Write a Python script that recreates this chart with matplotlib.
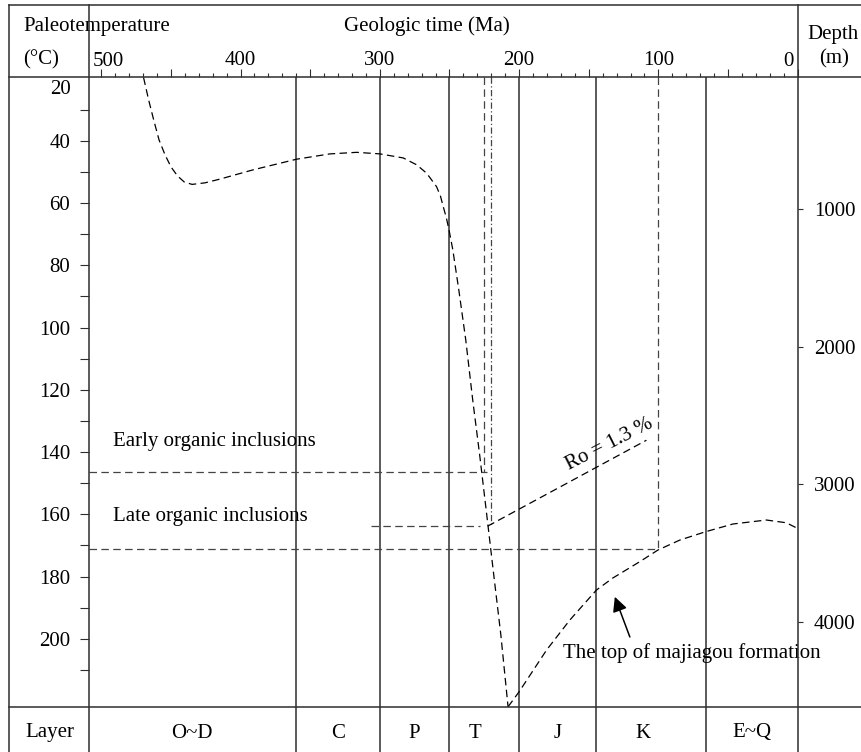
import numpy as np
import matplotlib.pyplot as plt
from matplotlib.lines import Line2D

plt.rcParams['font.family'] = ['Liberation Serif', 'DejaVu Serif']
plt.rcParams['font.size'] = 15

# geologic period boundaries (Ma) and layer labels
geo_bounds = [360, 300, 250, 200, 145, 66]
layer_names = ['O~D', 'C', 'P', 'T', 'J', 'K', 'E~Q']
layer_pos = [435, 330, 275, 232, 172, 111, 33]

# paleotemperature history (Ma, degC)
temp_age = [469.6, 466.0, 462.4, 458.5, 454.2, 449.9, 445.2, 440.5, 434.8, 425.5,
            414.8, 390.8, 359.7, 335.8, 316.6, 299.9, 283.2, 273.6, 266.4, 259.3,
            256.5, 254.5, 252.2, 250.2, 247.6, 243.3, 238.3, 233.3, 228.3, 223.2,
            218.2, 213.1, 207.9]
temp_val = [19.7, 26.8, 33.2, 39.7, 44.5, 48.4, 51.3, 53.2, 54.0, 53.5,
            52.3, 49.3, 45.9, 44.2, 43.7, 44.2, 45.5, 47.7, 50.4, 54.7,
            57.7, 61.1, 64.8, 68.9, 75.0, 87.9, 104.0, 123.3, 141.0, 160.3,
            179.5, 198.8, 222.0]

# burial depth of the top of majiagou formation (Ma, m)
burial_age = [207.9, 200.0, 180.3, 163.6, 144.5, 132.8, 113.4, 100.3, 84.7, 66.1,
              46.5, 22.5, 8.2, 0.3]
burial_depth = [4617, 4508, 4205, 3987, 3769, 3682, 3563, 3478, 3406, 3345,
                3289, 3260, 3280, 3320]

# fluid inclusion temperatures and ages
early_T = 146.3
early_age = 225
late_T = 163.8
late_span = [306.6, 228.2]
late_long_T = 171.2
late_age = 100
ro_age_mark = 220
ro_age = [222.6, 108.6]
ro_T = [163.8, 136.2]

W, H = 861, 752
fig = plt.figure(figsize=(W / 100, H / 100), dpi=100)


def fx(px):
    return px / W


def fy(py):
    return 1 - py / H


left, right, top, bottom = 88.7, 797.7, 76.7, 707.3
ax = fig.add_axes([fx(left), fy(bottom), fx(right) - fx(left), fy(top) - fy(bottom)])
ax.set_xlim(509, 0)
ax.set_ylim(222, 19.4)
for s in ax.spines.values():
    s.set_visible(False)

gc = '#2e2e2e'
dash = (0, (6, 3.5))

for b in geo_bounds:
    ax.axvline(b, color=gc, lw=1.1)

ax.plot(temp_age, temp_val, color='k', lw=0.9, ls=dash)

# inclusion lines
ax.plot([509, early_age - 2], [early_T, early_T], color='#444', lw=0.9, ls=dash)
ax.plot([early_age, early_age], [19.4, early_T], color='#444', lw=0.9, ls=dash)
ax.plot([ro_age_mark, ro_age_mark], [19.4, late_T], color='#444', lw=0.9, ls=(0, (5, 2, 1, 2)))
ax.plot(late_span, [late_T, late_T], color='#444', lw=0.9, ls=dash)
ax.plot([509, late_age], [late_long_T, late_long_T], color='#444', lw=0.9, ls=dash)
ax.plot([late_age, late_age], [19.4, late_long_T], color='#444', lw=0.9, ls=dash)
ax.plot(ro_age, ro_T, color='k', lw=0.9, ls=dash)

ax.text(135.5, 137.6, 'Ro = 1.3 %', rotation=27, ha='center', va='center',
        rotation_mode='anchor')
ax.text(491.7, 136.7, 'Early organic inclusions', ha='left', va='center')
ax.text(491.7, 160.8, 'Late organic inclusions', ha='left', va='center')
ax.text(168.5, 204.6, 'The top of majiagou formation', ha='left', va='center', clip_on=False)
ax.annotate('', xy=(131.3, 186.5), xytext=(120.5, 199.4),
            arrowprops=dict(arrowstyle='-|>', color='k', lw=1.1, mutation_scale=22,
                            shrinkA=0, shrinkB=0))

# top time axis
ax.xaxis.tick_top()
majors = np.arange(0, 501, 50)
ax.set_xticks(majors)
ax.set_xticklabels([str(t) if t % 100 == 0 and 0 < t < 500 else '' for t in majors])
ax.set_xticks(np.arange(0, 510, 10), minor=True)
ax.tick_params(axis='x', which='major', direction='out', length=5.5, width=0.8, pad=-0.5, color=gc)
ax.tick_params(axis='x', which='minor', direction='out', length=2.6, width=0.8, color=gc)
fig.text(fx(93), fy(61), '500', ha='left', va='center')
fig.text(fx(794), fy(61), '0', ha='right', va='center')

# left temperature axis
ax.set_yticks(np.arange(40, 201, 20))
ax.set_yticks(np.arange(30, 220, 10), minor=True)
ax.tick_params(axis='y', which='both', direction='out', length=6.3, width=0.8, pad=7, color=gc)
ax.text(-0.025, 23.6, '20', transform=ax.get_yaxis_transform(), ha='right', va='center')

# right depth axis
ax2 = ax.twinx()
ax2.set_ylim(4621, 38.5)
for s in ax2.spines.values():
    s.set_visible(False)
ax2.set_yticks([1000, 2000, 3000, 4000])
ax2.tick_params(axis='y', direction='out', length=3.8, width=0.8, pad=8, color=gc)
ax2.plot(burial_age, burial_depth, color='k', lw=0.9, ls=dash)

# layer row
axl = fig.add_axes([fx(left), 0, fx(right) - fx(left), fy(bottom)])
axl.set_xlim(509, 0)
axl.set_ylim(0, 1)
axl.axis('off')
for b in geo_bounds:
    axl.axvline(b, color=gc, lw=1.1)
for name, p in zip(layer_names, layer_pos):
    axl.text(p, (H - 733) / (H - bottom), name, ha='center', va='center')

# table frame
frame = [((9, 861), (5, 5)), ((9, 861), (top, top)), ((9, 861), (bottom, bottom)),
         ((9, 9), (5, H)), ((left, left), (5, H)), ((right, right), (5, H))]
for xs, ys in frame:
    fig.add_artist(Line2D([fx(xs[0]), fx(xs[1])], [fy(ys[0]), fy(ys[1])], color=gc, lw=1.1))

fig.text(fx(23), fy(27), 'Paleotemperature', ha='left', va='center')
fig.text(fx(23), fy(60), '(\u00b0C)', ha='left', va='center')
fig.text(fx(427), fy(26), 'Geologic time (Ma)', ha='center', va='center')
fig.text(fx(807), fy(34), 'Depth', ha='left', va='center')
fig.text(fx(834), fy(59), '(m)', ha='center', va='center')
fig.text(fx(50), fy(733), 'Layer', ha='center', va='center')

fig.savefig('out.png', dpi=100)
